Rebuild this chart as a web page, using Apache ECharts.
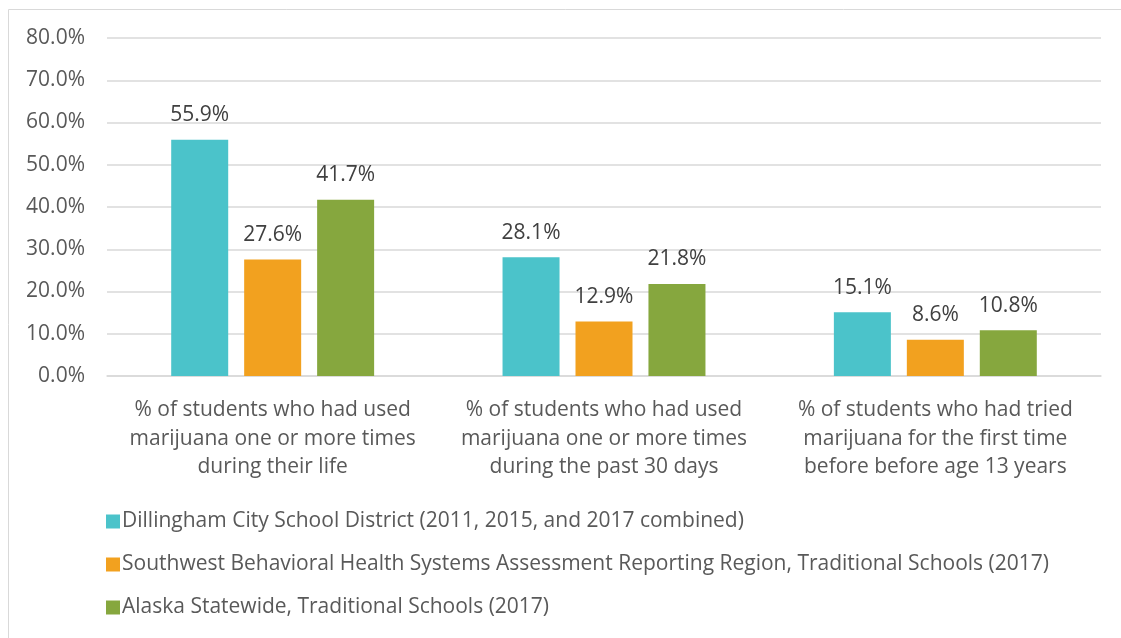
<!DOCTYPE html>
<html>
<head>
<meta charset="utf-8">
<script src="https://cdn.jsdelivr.net/npm/echarts@6/dist/echarts.min.js"></script>
<style>
  html, body { margin: 0; padding: 0; background: #fff; }
  #chart { width: 1121px; height: 638px; }
</style>
</head>
<body>
<div id="chart"></div>
<script>
const categories = [
  '% of students who had used\nmarijuana one or more times\nduring their life',
  '% of students who had used\nmarijuana one or more times\nduring the past 30 days',
  '% of students who had tried\nmarijuana for the first time\nbefore before age 13 years'
];
const seriesNames = [
  'Dillingham City School District (2011, 2015, and 2017 combined)',
  'Southwest Behavioral Health Systems Assessment Reporting Region, Traditional Schools (2017)',
  'Alaska Statewide, Traditional Schools (2017)'
];
const dillingham = [55.9, 28.1, 15.1];
const southwest = [27.6, 12.9, 8.6];
const statewide = [41.7, 21.8, 10.8];
const colors = ['#4BC3CA', '#F2A11F', '#86A73E'];

const fontFamily = '"Open Sans", Lato, sans-serif';
const textColor = '#595959';

function makeSeries(name, data, color) {
  return {
    name: name,
    type: 'bar',
    data: data,
    barWidth: 57,
    barGap: '28%',
    itemStyle: { color: color },
    label: {
      show: true,
      position: 'top',
      distance: 14,
      formatter: p => p.value.toFixed(1) + '%',
      color: '#404040',
      fontSize: 21,
      fontFamily: fontFamily
    }
  };
}

const chart = echarts.init(document.getElementById('chart'));
chart.setOption({
  animation: false,
  color: colors,
  textStyle: { fontFamily: fontFamily },
  graphic: [{
    type: 'rect',
    shape: { x: 8.5, y: 9.5, width: 1200, height: 700 },
    style: { fill: 'none', stroke: '#d9d9d9', lineWidth: 1 },
    silent: true
  }],
  grid: { left: 107, right: 20, top: 38, bottom: 262 },
  xAxis: {
    type: 'category',
    data: categories,
    axisTick: { show: false },
    axisLine: { lineStyle: { color: '#d9d9d9', width: 1.5 } },
    axisLabel: {
      color: textColor,
      fontSize: 21,
      lineHeight: 28.5,
      margin: 20,
      interval: 0,
      fontFamily: fontFamily
    }
  },
  yAxis: {
    type: 'value',
    min: 0,
    max: 80,
    interval: 10,
    axisLabel: {
      formatter: v => v.toFixed(1) + '%',
      color: textColor,
      fontSize: 21,
      margin: 22,
      fontFamily: fontFamily
    },
    splitLine: { lineStyle: { color: '#d9d9d9', width: 1.5 } },
    axisLine: { show: false },
    axisTick: { show: false }
  },
  legend: {
    orient: 'vertical',
    left: 101,
    top: 506,
    itemGap: 22,
    itemWidth: 14,
    itemHeight: 14,
    icon: 'rect',
    data: seriesNames,
    textStyle: {
      color: textColor,
      fontSize: 21,
      padding: [0, 0, 0, -3],
      fontFamily: fontFamily
    }
  },
  series: [
    makeSeries(seriesNames[0], dillingham, colors[0]),
    makeSeries(seriesNames[1], southwest, colors[1]),
    makeSeries(seriesNames[2], statewide, colors[2])
  ]
});
</script>
</body>
</html>
